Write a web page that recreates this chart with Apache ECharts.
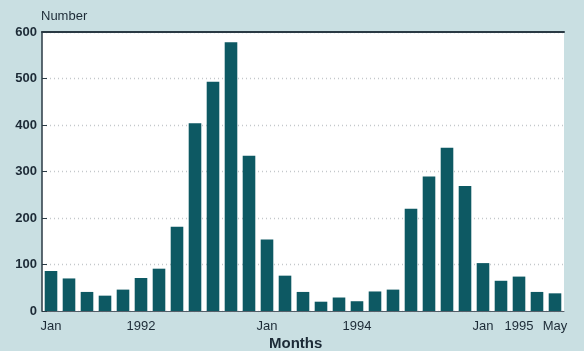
<!DOCTYPE html>
<html>
<head>
<meta charset="utf-8">
<script src="https://cdn.jsdelivr.net/npm/echarts@6/dist/echarts.min.js"></script>
<style>
  html, body { margin: 0; padding: 0; background: #c9dfe2; }
  #chart { width: 584px; height: 351px; }
</style>
</head>
<body>
<div id="chart"></div>
<script>
// Monthly counts, one bar per month
const months = ['m1','m2','m3','m4','m5','m6','m7','m8','m9','m10','m11','m12','m13','m14','m15',
                'm16','m17','m18','m19','m20','m21','m22','m23','m24','m25','m26','m27','m28','m29'];
const counts = [86, 70, 41, 33, 46, 71, 91, 181, 404, 493, 578, 334, 154, 76, 41,
                20, 29, 21, 42, 46, 220, 289, 351, 269, 103, 65, 74, 41, 38];
// Labels shown under selected bars
const tickLabels = ['Jan','','','','','1992','','','','','','','Jan','','',
                    '','','1994','','','','','','','Jan','','1995','','May'];
const yTicks = [0, 100, 200, 300, 400, 500, 600];

const textColor = '#1c2a36';
const font = '"Liberation Sans", Arial, Helvetica, sans-serif';

const chart = echarts.init(document.getElementById('chart'), null, { renderer: 'canvas' });
chart.setOption({
  backgroundColor: '#c9dfe2',
  animation: false,
  grid: { left: 42, right: 20, top: 32, bottom: 40, show: true, backgroundColor: '#ffffff', borderWidth: 0 },
  title: [
    { text: 'Number', left: 36, top: 5, padding: 5,
      textStyle: { fontFamily: font, fontSize: 13, fontWeight: 'normal', color: textColor } },
    { text: 'Months', left: 264, top: 331, padding: 5,
      textStyle: { fontFamily: font, fontSize: 15, fontWeight: 'bold', color: textColor } }
  ],
  xAxis: [
    {
      type: 'category', data: months, boundaryGap: true,
      axisLine: { show: true, lineStyle: { color: '#55606a', width: 1 } },
      axisTick: { show: false },
      axisLabel: {
        interval: 0, margin: 9, fontFamily: font, fontSize: 13, color: textColor,
        formatter: (v, i) => tickLabels[i]
      }
    },
    {
      type: 'category', data: months, position: 'top',
      axisLine: { show: true, lineStyle: { color: '#2a3a44', width: 2 } },
      axisTick: { show: false }, axisLabel: { show: false }
    }
  ],
  yAxis: {
    type: 'value', min: yTicks[0], max: yTicks[yTicks.length - 1], interval: 100,
    axisLine: { show: true, lineStyle: { color: '#2a3a44', width: 1.5 } },
    axisTick: { show: true, inside: true, length: 5, lineStyle: { color: '#2a3a44' } },
    axisLabel: { margin: 5, fontFamily: font, fontSize: 13, fontWeight: 'bold', color: textColor },
    splitLine: { show: true, lineStyle: { color: '#c4c8cb', type: [1, 3], width: 1.3 } }
  },
  series: [{
    type: 'bar', data: counts, barCategoryGap: '30%',
    itemStyle: { color: '#0d5963' }
  }]
});
</script>
</body>
</html>
